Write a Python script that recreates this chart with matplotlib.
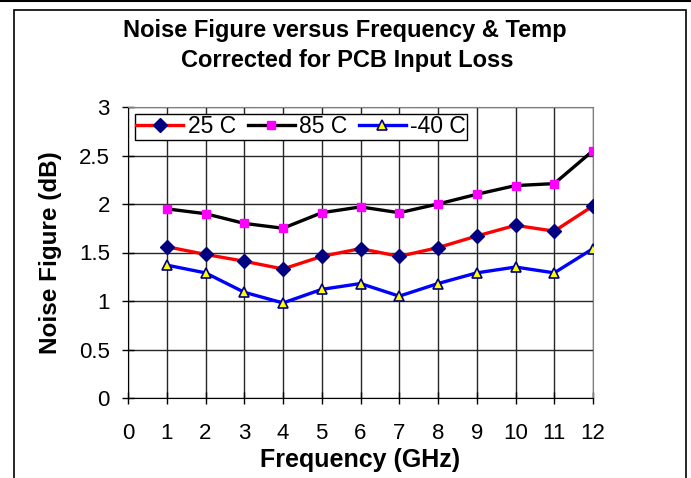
import matplotlib
matplotlib.use("Agg")
import matplotlib.pyplot as plt
from matplotlib.lines import Line2D
from matplotlib.patches import Rectangle

plt.rcParams['font.family'] = ['Liberation Sans', 'DejaVu Sans']

freq = [1, 2, 3, 4, 5, 6, 7, 8, 9, 10, 11, 12]
nf_25 = [1.56, 1.48, 1.41, 1.33, 1.46, 1.54, 1.46, 1.55, 1.67, 1.78, 1.72, 1.98]
nf_85 = [1.95, 1.90, 1.80, 1.75, 1.91, 1.97, 1.91, 2.00, 2.10, 2.19, 2.21, 2.55]
nf_m40 = [1.37, 1.29, 1.09, 0.98, 1.12, 1.18, 1.05, 1.18, 1.29, 1.35, 1.29, 1.54]
series_labels = ['25 C', '85 C', '-40 C']
xticks = list(range(0, 13))
yticks = [0, 0.5, 1, 1.5, 2, 2.5, 3]
ytick_labels = ['0', '0.5', '1', '1.5', '2', '2.5', '3']

W, H = 691, 478
fig = plt.figure(figsize=(W / 100, H / 100), dpi=100)

# outer frame lines
fig.add_artist(Line2D([0, 1], [1 - 0.5 / H, 1 - 0.5 / H], transform=fig.transFigure, color='black', lw=1.5))
fig.add_artist(Rectangle((14 / W, -0.05), (686 - 14) / W, 1.05 - 10 / H,
                         transform=fig.transFigure, fill=False, edgecolor='black', lw=1.2))

left, right, top, bottom = 128, 593, 107, 398
ax = fig.add_axes([left / W, 1 - bottom / H, (right - left) / W, (bottom - top) / H])

ax.plot(freq, nf_25, color='#ff0000', lw=2.4, marker='D', markersize=7.5,
        markerfacecolor='#000080', markeredgecolor='#000080', label=series_labels[0], zorder=3)
ax.plot(freq, nf_85, color='black', lw=2.4, marker='s', markersize=5.5,
        markerfacecolor='#ff00ff', markeredgecolor='#ff00ff', label=series_labels[1], zorder=3)
ax.plot(freq, nf_m40, color='#0000ff', lw=2.4, marker='^', markersize=6.5,
        markerfacecolor='#ffff00', markeredgecolor='#000080', markeredgewidth=1.2,
        label=series_labels[2], zorder=3)

ax.set_xlim(0, 12)
ax.set_ylim(0, 3)
ax.set_xticks(xticks)
ax.set_yticks(yticks)
ax.set_yticklabels(ytick_labels)
ax.grid(True, color='#262626', lw=1.0)
ax.set_axisbelow(True)
ax.tick_params(direction='inout', length=8, width=1, labelsize=16, colors='black')
ax.tick_params(axis='x', pad=14)
ax.tick_params(axis='y', pad=9)
for s in ['top', 'right']:
    ax.spines[s].set_color('#808080')
for s in ['left', 'bottom']:
    ax.spines[s].set_color('black')

ax.set_xlabel('Frequency (GHz)', fontsize=18, fontweight='bold', labelpad=3)
ax.set_ylabel('Noise Figure (dB)', fontsize=17.5, fontweight='bold', labelpad=12)

leg = ax.legend(loc='upper left', ncol=3, fontsize=16.5, frameon=True, fancybox=False,
                edgecolor='black', framealpha=1, borderpad=0.05, handlelength=2.05,
                handletextpad=0.2, columnspacing=0.5, borderaxespad=0.32)
leg.get_frame().set_linewidth(1.0)

fig.text(345 / W, 1 - 30 / H, 'Noise Figure versus Frequency & Temp',
         ha='center', va='center', fontsize=17, fontweight='bold')
fig.text(347 / W, 1 - 60 / H, 'Corrected for PCB Input Loss',
         ha='center', va='center', fontsize=17, fontweight='bold')

fig.savefig('out.png', dpi=100)
